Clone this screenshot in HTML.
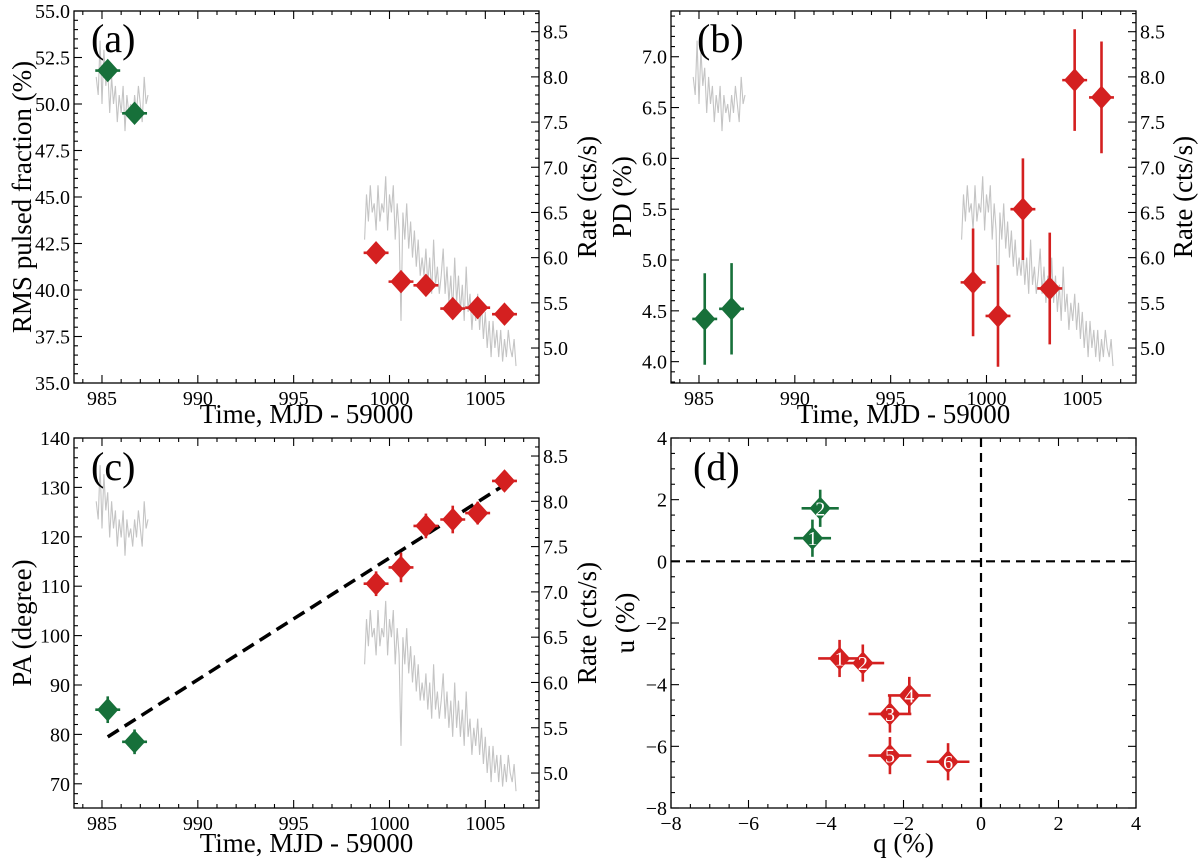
<!DOCTYPE html>
<html><head><meta charset="utf-8">
<style>
html,body{margin:0;padding:0;background:#fff;}
svg{display:block;font-family:"Liberation Serif","DejaVu Serif",serif;}
</style></head>
<body>
<svg id="fig" width="1200" height="864" viewBox="0 0 1200 864" xmlns="http://www.w3.org/2000/svg"></svg>
<script>
// ---- data ----
const lcT1Start = 984.7, lcStep = 0.1;
const lcRate1 = [8.0,7.8,8.4,7.7,8.3,7.9,8.1,7.6,8.0,7.7,7.9,7.5,7.8,7.6,7.9,7.4,7.8,7.6,7.7,7.5,7.8,7.6,7.9,7.7,7.5,8.0,7.7,7.8];
const lcT2Start = 998.7;
const lcRate2 = [6.2,6.7,6.4,6.8,6.5,6.6,6.3,6.8,6.4,6.6,
 6.5,6.9,6.3,6.7,6.5,6.8,6.2,6.6,6.3,5.3,
 6.5,6.2,6.6,6.1,6.4,6.0,6.3,5.9,6.2,5.8,
 6.0,5.8,6.1,5.7,6.0,5.6,6.2,5.7,5.9,5.6,
 5.8,6.1,5.6,5.9,5.5,5.8,5.4,6.0,5.5,5.8,
 5.4,5.7,5.3,5.9,5.4,5.6,5.2,5.5,5.3,5.6,
 5.2,5.5,5.1,5.4,5.0,5.3,4.9,5.3,5.0,5.2,
 4.9,5.2,4.85,5.1,4.9,5.2,5.0,4.9,5.1,4.8];
const timesGreen = [985.3, 986.7];
const timesRed = [999.3, 1000.6, 1001.9, 1003.3, 1004.6, 1006.0];
const timeErr = 0.65;
const rmsGreen = [51.8, 49.5];
const rmsRed = [42.0, 40.45, 40.25, 39.0, 39.05, 38.7];
const pdGreen = [4.42, 4.52];
const pdGreenErr = [0.45, 0.45];
const pdRed = [4.78, 4.45, 5.5, 4.72, 6.77, 6.6];
const pdRedErr = [0.53, 0.5, 0.5, 0.55, 0.5, 0.55];
const paGreen = [85.0, 78.5];
const paGreenErr = [2.7, 2.5];
const paRed = [110.5, 113.8, 122.2, 123.5, 124.8, 131.3];
const paRedErr = [2.5, 3.0, 2.5, 2.8, 2.3, 2.0];
const fitLine = [[985.3, 79.5], [1006.0, 130.5]];
const qGreen = [-4.35, -4.15], uGreen = [0.75, 1.72];
const qRed = [-3.65, -3.05, -2.35, -1.85, -2.35, -0.85];
const uRed = [-3.15, -3.3, -4.95, -4.35, -6.3, -6.5];
const quErr = 0.48;
const xTickTime = [985, 990, 995, 1000, 1005];
const rateTicks = [5.0, 5.5, 6.0, 6.5, 7.0, 7.5, 8.0, 8.5];
const rmsTicks = [35.0, 37.5, 40.0, 42.5, 45.0, 47.5, 50.0, 52.5, 55.0];
const pdTicks = [4.0, 4.5, 5.0, 5.5, 6.0, 6.5, 7.0];
const paTicks = [70, 80, 90, 100, 110, 120, 130, 140];
const quTicks = [-8, -6, -4, -2, 0, 2, 4];

const GREEN = '#17703a', RED = '#d42020', GRAY = '#c4c4c4';
const NS = 'http://www.w3.org/2000/svg';
const svg = document.getElementById('fig');
function el(tag, attrs, parent, text){
  const e = document.createElementNS(NS, tag);
  for (const k in attrs) e.setAttribute(k, attrs[k]);
  if (text !== undefined) e.textContent = text;
  (parent || svg).appendChild(e);
  return e;
}
function lin(d0, d1, r0, r1){ return v => r0 + (v - d0) * (r1 - r0) / (d1 - d0); }

function frame(g, L, T, R, B){
  const f = el('rect', {x:L, y:T, width:R-L, height:B-T, fill:'none', stroke:'#000', 'stroke-width':1.3}, g);
  
  
}
function xTicks(g, sx, lo, hi, major, minor, T, B, labels, fmt){
  for (let v = Math.ceil(lo/minor)*minor; v <= hi + 1e-9; v += minor){
    const isMaj = Math.abs(v/major - Math.round(v/major)) < 1e-6;
    const len = isMaj ? 8 : 4, x = sx(v);
    el('line', {x1:x, x2:x, y1:B, y2:B-len, stroke:'#000', 'stroke-width':1.1}, g);
    el('line', {x1:x, x2:x, y1:T, y2:T+len, stroke:'#000', 'stroke-width':1.1}, g);
  }
  labels.forEach(v => {
    const t = el('text', {x:sx(v), y:B+22, 'font-size':20, 'text-anchor':'middle'}, g, fmt(v));
    
    
  });
}
function yTicks(g, sy, lo, hi, major, minor, x, side, labels, fmt, doLabel){
  for (let v = Math.ceil(lo/minor - 1e-9)*minor; v <= hi + 1e-9; v += minor){
    const isMaj = Math.abs(v/major - Math.round(v/major)) < 1e-6;
    const len = isMaj ? 8 : 4, y = sy(v);
    el('line', {x1:x, x2:x + side*len, y1:y, y2:y, stroke:'#000', 'stroke-width':1.1}, g);
  }
  if (!doLabel) return;
  labels.forEach(v => {
    const t = el('text', {x: side > 0 ? x - 4 : x + 4, y: sy(v) + 7, 'font-size':20, 'text-anchor': side > 0 ? 'end' : 'start'}, g, fmt(v));
    
    
  });
}
function axisLabel(g, text, x, y, rot, name){
  const t = el('text', {x:x, y:y, 'font-size':27, 'text-anchor':'middle', transform: rot ? `rotate(-90 ${x} ${y})` : ''}, g, text);
  
  
}
function lightCurve(g, sx, sr){
  [[lcT1Start, lcRate1], [lcT2Start, lcRate2]].forEach(([t0, arr]) => {
    const pts = arr.map((r, i) => `${sx(t0 + i*lcStep).toFixed(1)},${sr(r).toFixed(1)}`).join(' ');
    const p = el('polyline', {points:pts, fill:'none', stroke:GRAY, 'stroke-width':1.1}, g);
    
    
  });
}
function diamond(g, x, y, color, xe, ye, name, label){
  if (xe) el('line', {x1:x-xe, x2:x+xe, y1:y, y2:y, stroke:color, 'stroke-width':2.6}, g);
  if (ye) el('line', {x1:x, x2:x, y1:y-ye, y2:y+ye, stroke:color, 'stroke-width':2.6}, g);
  const d = el('polygon', {points:`${x},${y-11} ${x+10},${y} ${x},${y+11} ${x-10},${y}`, fill:color, stroke:color, 'stroke-width':1}, g);
  
  
  if (label) el('text', {x:x, y:y+7, 'font-size':20, fill:'#fff', 'text-anchor':'middle'}, g, label);
}
function panelLabel(g, x, y, txt){
  const t = el('text', {x:x, y:y, 'font-size':40}, g, txt);
  
  
}
const f1 = v => v.toFixed(1);
const f0 = v => String(v);
const fm = v => v < 0 ? '\u2212' + Math.abs(v) : String(v);

// Layout
const TL = 74, TR = 539, BL = 671, BR = 1136;
const T1 = 11, B1 = 383, T2 = 438, B2 = 808;
const tLo = 983.54, tHi = 1007.8;

// ---- panel a ----
{
  const g = el('g', {});
  
  
  const sx = lin(tLo, tHi, TL, TR), sy = lin(35, 55, B1, T1), sr = lin(4.613, 8.729, B1, T1);
  lightCurve(g, sx, sr);
  frame(g, TL, T1, TR, B1);
  xTicks(g, sx, 984, 1007, 5, 1, T1, B1, xTickTime, f0);
  yTicks(g, sy, 35, 55, 2.5, 0.5, TL, 1, rmsTicks, f1, true);
  yTicks(g, sr, 4.7, 8.7, 0.5, 0.1, TR, -1, rateTicks, f1, true);
  axisLabel(g, 'RMS pulsed fraction (%)', 31, (T1+B1)/2, true, 'y-axis-title-rms');
  axisLabel(g, 'Rate (cts/s)', 596, (T1+B1)/2, true, 'y-axis-title-rate');
  axisLabel(g, 'Time, MJD - 59000', (TL+TR)/2, 423, false, 'x-axis-title');
  panelLabel(g, 91, 52, '(a)');
  timesGreen.forEach((t, i) => diamond(g, sx(t), sy(rmsGreen[i]), GREEN, timeErr*(sx(1)-sx(0)), 0, 'rms-point-green'));
  timesRed.forEach((t, i) => diamond(g, sx(t), sy(rmsRed[i]), RED, timeErr*(sx(1)-sx(0)), 0, 'rms-point-red'));
}
// ---- panel b ----
{
  const g = el('g', {});
  
  
  const sx = lin(tLo, tHi, BL, BR), sy = lin(3.79, 7.45, B1, T1), sr = lin(4.613, 8.729, B1, T1);
  lightCurve(g, sx, sr);
  frame(g, BL, T1, BR, B1);
  xTicks(g, sx, 984, 1007, 5, 1, T1, B1, xTickTime, f0);
  yTicks(g, sy, 3.8, 7.4, 0.5, 0.1, BL, 1, pdTicks, f1, true);
  yTicks(g, sr, 4.7, 8.7, 0.5, 0.1, BR, -1, rateTicks, f1, true);
  axisLabel(g, 'PD (%)', 631, (T1+B1)/2, true, 'y-axis-title-pd');
  axisLabel(g, 'Rate (cts/s)', 1192, (T1+B1)/2, true, 'y-axis-title-rate');
  axisLabel(g, 'Time, MJD - 59000', (BL+BR)/2, 423, false, 'x-axis-title');
  panelLabel(g, 697, 52, '(b)');
  const k = sx(1)-sx(0), ky = sy(0)-sy(1);
  timesGreen.forEach((t, i) => diamond(g, sx(t), sy(pdGreen[i]), GREEN, timeErr*k, pdGreenErr[i]*ky, 'pd-point-green'));
  timesRed.forEach((t, i) => diamond(g, sx(t), sy(pdRed[i]), RED, timeErr*k, pdRedErr[i]*ky, 'pd-point-red'));
}
// ---- panel c ----
{
  const g = el('g', {});
  
  
  const sx = lin(tLo, tHi, TL, TR), sy = lin(65.1, 140, B2, T2), sr = lin(4.614, 8.699, B2, T2);
  lightCurve(g, sx, sr);
  frame(g, TL, T2, TR, B2);
  xTicks(g, sx, 984, 1007, 5, 1, T2, B2, xTickTime, f0);
  yTicks(g, sy, 66, 140, 10, 2, TL, 1, paTicks, f0, true);
  yTicks(g, sr, 4.7, 8.6, 0.5, 0.1, TR, -1, rateTicks, f1, true);
  axisLabel(g, 'PA (degree)', 31, (T2+B2)/2, true, 'y-axis-title-pa');
  axisLabel(g, 'Rate (cts/s)', 596, (T2+B2)/2, true, 'y-axis-title-rate');
  axisLabel(g, 'Time, MJD - 59000', (TL+TR)/2, 852, false, 'x-axis-title');
  panelLabel(g, 91, 480, '(c)');
  const fl = el('line', {x1:sx(fitLine[0][0]), y1:sy(fitLine[0][1]), x2:sx(fitLine[1][0]), y2:sy(fitLine[1][1]), stroke:'#000', 'stroke-width':3.5, 'stroke-dasharray':'13,7'}, g);
  
  
  const k = sx(1)-sx(0), ky = sy(0)-sy(1);
  timesGreen.forEach((t, i) => diamond(g, sx(t), sy(paGreen[i]), GREEN, timeErr*k, paGreenErr[i]*ky, 'pa-point-green'));
  timesRed.forEach((t, i) => diamond(g, sx(t), sy(paRed[i]), RED, timeErr*k, paRedErr[i]*ky, 'pa-point-red'));
}
// ---- panel d ----
{
  const g = el('g', {});
  
  
  const sx = lin(-8, 4, BL, BR), sy = lin(-8, 4, B2, T2);
  frame(g, BL, T2, BR, B2);
  xTicks(g, sx, -8, 4, 2, 0.5, T2, B2, quTicks, fm);
  yTicks(g, sy, -8, 4, 2, 0.5, BL, 1, quTicks, fm, true);
  yTicks(g, sy, -8, 4, 2, 0.5, BR, -1, [], fm, false);
  axisLabel(g, 'u (%)', 634, (T2+B2)/2, true, 'y-axis-title-u');
  axisLabel(g, 'q (%)', (BL+BR)/2, 852, false, 'x-axis-title-q');
  panelLabel(g, 693, 480, '(d)');
  const h = el('line', {x1:BL, x2:BR, y1:sy(0), y2:sy(0), stroke:'#000', 'stroke-width':2.2, 'stroke-dasharray':'9,6'}, g);
  
  
  const v = el('line', {x1:sx(0), x2:sx(0), y1:T2, y2:B2, stroke:'#000', 'stroke-width':2.2, 'stroke-dasharray':'9,6'}, g);
  
  
  const k = sx(1)-sx(0);
  qGreen.forEach((q, i) => diamond(g, sx(q), sy(uGreen[i]), GREEN, quErr*k, quErr*k, 'qu-point-green', String(i+1)));
  qRed.forEach((q, i) => diamond(g, sx(q), sy(uRed[i]), RED, quErr*k*1.15, quErr*k, 'qu-point-red', String(i+1)));
}
</script>
</body></html>
